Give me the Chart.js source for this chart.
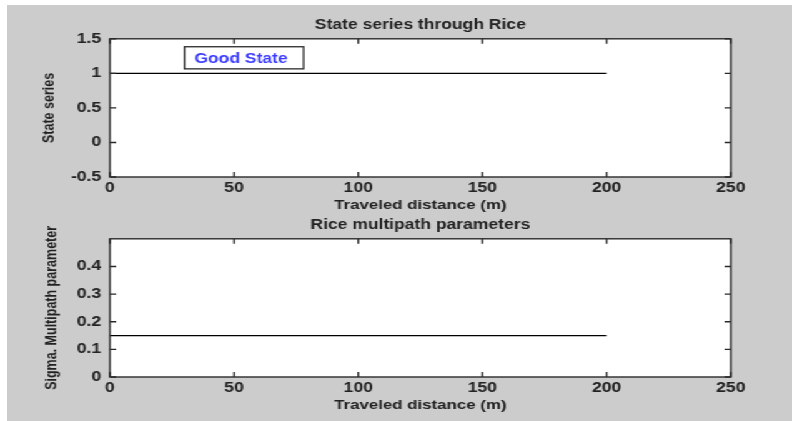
<!DOCTYPE html>
<html>
<head>
<meta charset="utf-8">
<script src="https://cdn.jsdelivr.net/npm/chart.js@4"></script>
<style>
  html, body { margin: 0; padding: 0; background: #fff; }
  body { width: 792px; height: 421px; position: relative; overflow: hidden; }
  #figure { position: absolute; left: 7px; top: 5px; right: 0; bottom: 0; background: #cccccc; }
  /* the picture is stretched sideways, so draw narrow and widen it */
  #stretch { position: absolute; left: 0; top: 0; width: 634px; transform: scaleX(1.2492); transform-origin: 0 0; }
  canvas { display: block; }
</style>
</head>
<body>
<div id="figure"></div>
<div id="stretch">
  <canvas id="stateChart" width="634" height="214"></canvas>
  <canvas id="sigmaChart" width="634" height="207"></canvas>
</div>
<script>
// data
const distance = [0, 200];
const stateSeries = [1, 1];
const sigmaMultipath = [0.15, 0.15];
const distanceTicks = [0, 50, 100, 150, 200, 250];
const stateTicks = [-0.5, 0, 0.5, 1, 1.5];
const sigmaTicks = [0, 0.1, 0.2, 0.3, 0.4];
const stateLabel = 'Good State';

const FONT = 'Liberation Sans, Arial, Helvetica, sans-serif';
const NARROW = '"Liberation Sans Narrow", "Arial Narrow", Liberation Sans, sans-serif';
const TEXT = '#222';

// white axes, box round them and ticks pointing inward (matlab look)
const matlabBox = {
    id: 'matlabBox',
    beforeDraw(chart) {
        const a = chart.chartArea;
        chart.ctx.save();
        chart.ctx.fillStyle = '#fff';
        chart.ctx.fillRect(a.left, a.top, a.right - a.left, a.bottom - a.top);
        chart.ctx.restore();
    },
    afterDatasetsDraw(chart, args, opts) {
        const {ctx, chartArea: a, scales: {x, y}} = chart;
        ctx.save();
        ctx.strokeStyle = '#2a2a2a';
        ctx.lineWidth = 1.4;
        ctx.beginPath();
        x.ticks.forEach(t => {
            const px = x.getPixelForValue(t.value);
            ctx.moveTo(px, a.bottom); ctx.lineTo(px, a.bottom - 5);
            ctx.moveTo(px, a.top); ctx.lineTo(px, a.top + 5);
        });
        y.ticks.forEach(t => {
            const py = y.getPixelForValue(t.value);
            ctx.moveTo(a.left, py); ctx.lineTo(a.left + 5, py);
            ctx.moveTo(a.right, py); ctx.lineTo(a.right - 5, py);
        });
        ctx.stroke();
        ctx.strokeRect(a.left, a.top, a.right - a.left, a.bottom - a.top);

        // text box
        if (opts.label) {
            const l = opts.label;
            const x0 = x.getPixelForValue(l.x0), x1 = x.getPixelForValue(l.x1);
            const y0 = y.getPixelForValue(l.y0), y1 = y.getPixelForValue(l.y1);
            ctx.fillStyle = '#fff';
            ctx.fillRect(x0, y0, x1 - x0, y1 - y0);
            ctx.lineWidth = 1.3;
            ctx.strokeRect(x0, y0, x1 - x0, y1 - y0);
            ctx.fillStyle = '#3a3aff';
            ctx.font = 'bold 14px ' + FONT;
            ctx.textBaseline = 'middle';
            ctx.fillText(l.text, x0 + 8, (y0 + y1) / 2 + 1);
        }
        ctx.restore();
    }
};

function makeChart(id, values, yTicks, yMin, yMax, title, yTitle, lay) {
    return new Chart(document.getElementById(id), {
        type: 'line',
        data: {
            labels: distance,
            datasets: [{
                data: distance.map((d, i) => ({x: d, y: values[i]})),
                borderColor: '#000',
                borderWidth: 1.3,
                pointRadius: 0,
                fill: false
            }]
        },
        options: {
            responsive: false,
            animation: false,
            events: [],
            layout: {padding: {left: 0, right: 49, top: 0, bottom: lay.bottom}},
            plugins: {
                legend: {display: false},
                tooltip: {enabled: false},
                title: {
                    display: true,
                    fullSize: false,
                    text: title,
                    color: TEXT,
                    font: {family: FONT, size: 14, weight: 'bold'},
                    padding: {top: lay.titleTop, bottom: lay.titleBottom}
                },
                matlabBox: {label: lay.label}
            },
            scales: {
                x: {
                    type: 'linear',
                    min: 0,
                    max: 250,
                    afterBuildTicks: s => { s.ticks = distanceTicks.map(v => ({value: v})); },
                    afterFit: s => { s.height = lay.xHeight; },
                    grid: {display: false, drawTicks: false},
                    border: {display: false},
                    ticks: {
                        color: TEXT,
                        padding: 3,
                        maxRotation: 0,
                        font: {family: FONT, size: 14, weight: 'bold'},
                        callback: v => String(v)
                    },
                    title: {
                        display: true,
                        text: 'Traveled distance (m)',
                        color: TEXT,
                        font: {family: FONT, size: 13.5, weight: 'bold'},
                        padding: {top: 0, bottom: 1}
                    }
                },
                y: {
                    min: yMin,
                    max: yMax,
                    afterBuildTicks: s => { s.ticks = yTicks.map(v => ({value: v})); },
                    afterFit: s => { s.width = 88; },
                    grid: {display: false, drawTicks: false},
                    border: {display: false},
                    ticks: {
                        color: TEXT,
                        padding: 7,
                        font: {family: FONT, size: 14, weight: 'bold'},
                        callback: v => String(v)
                    },
                    title: {
                        display: true,
                        text: yTitle,
                        color: TEXT,
                        font: {family: NARROW, size: 12.5, weight: 'bold'},
                        padding: {top: lay.yTitlePad, bottom: 0}
                    }
                }
            }
        },
        plugins: [matlabBox]
    });
}

makeChart('stateChart', stateSeries, stateTicks, -0.5, 1.5,
    'State series through Rice', 'State series',
    {bottom: 0, xHeight: 37, titleTop: 17, titleBottom: 5, yTitlePad: 32,
     label: {text: stateLabel, x0: 30, x1: 78, y0: 1.385, y1: 1.065}});

makeChart('sigmaChart', sigmaMultipath, sigmaTicks, 0, 0.5,
    'Rice multipath parameters', 'Sigma. Multipath parameter',
    {bottom: 7, xHeight: 37, titleTop: 3, titleBottom: 5, yTitlePad: 34});
</script>
</body>
</html>
